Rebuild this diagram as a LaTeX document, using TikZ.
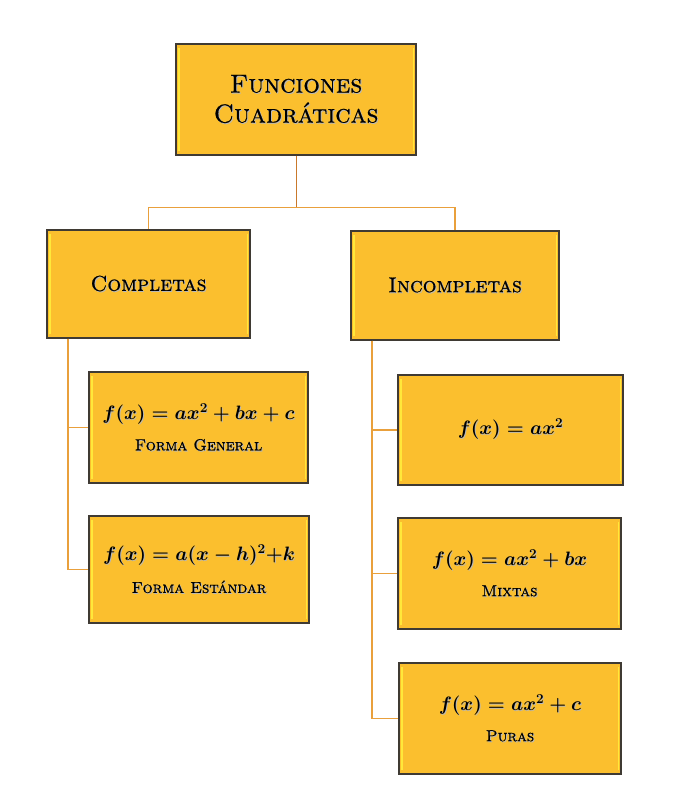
\RequirePackage{fix-cm}
\documentclass[tikz,border=0pt]{standalone}
\usepackage{fontspec}
\usetikzlibrary{calc}
\newfontfamily\capsfont{lmromancaps10-regular.otf}[FakeBold=0.6]
\definecolor{boxfill}{HTML}{FBBF2E}
\definecolor{boxline}{HTML}{3F3A33}
\definecolor{boxhi}{HTML}{FFE83A}
\definecolor{conn}{HTML}{E9A03C}
\definecolor{conndark}{HTML}{C9792C}
\newcommand{\shd}[1]{\leavevmode\rlap{\kern1pt\raisebox{-1pt}{\color{black!28}#1}}#1}
\tikzset{
  box/.style={draw=boxline, line width=1.1pt, fill=boxfill, align=center, inner sep=2pt,
    path picture={
      \draw[boxhi, line width=2.2pt] ($(path picture bounding box.north west)+(3,4)$) -- ($(path picture bounding box.south west)+(3,-4)$);
      \draw[boxhi, line width=1.2pt] ($(path picture bounding box.north east)+(-2.5,4)$) -- ($(path picture bounding box.south east)+(-2.5,-4)$);
    }},
  link/.style={draw=conn, line width=1.2pt},
  titletext/.style={font=\fontsize{26}{30}\selectfont\capsfont},
  headtext/.style={font=\fontsize{21.5}{24}\selectfont\capsfont},
}
\newcommand{\fml}[2]{{\fontsize{19.4}{22}\selectfont\boldmath\shd{$#1$}}\\[13pt]{\fontsize{16}{18}\selectfont\capsfont\shd{#2}}}
\begin{document}
\begin{tikzpicture}[x=1pt,y=-1pt]
\useasboundingbox (0,0) rectangle (676,810);
\node[box, titletext, minimum width=240pt, minimum height=111pt] (top) at (296,99.5) {\shd{Funciones}\\\shd{Cuadráticas}};
\node[box, headtext, minimum width=203pt, minimum height=108pt] (comp) at (148.5,284) {\shd{Completas}};
\node[box, headtext, minimum width=208pt, minimum height=109pt] (inc) at (455,285.5) {\shd{Incompletas}};
\node[box, minimum width=219pt, minimum height=111pt] (fg) at (198.5,427.5) {\fml{f(x)=ax^2+bx+c}{Forma General}};
\node[box, minimum width=220pt, minimum height=107pt] (fe) at (199,569.5) {\fml{f(x)=a(x-h)^2{+}k}{Forma Estándar}};
\node[box, minimum width=225pt, minimum height=110pt] (pa) at (510.5,430) {{\fontsize{19.4}{22}\selectfont\boldmath\shd{$f(x)=ax^2$}}};
\node[box, minimum width=223pt, minimum height=111pt] (mx) at (509.5,573.5) {\fml{f(x)=ax^2+bx}{Mixtas}};
\node[box, minimum width=222pt, minimum height=111pt] (pu) at (510,718.5) {\fml{f(x)=ax^2+c}{Puras}};
\coordinate (j) at (296.5,207.5);
\coordinate (cs) at ($(comp.south west)+(21.5,0)$);
\coordinate (is) at ($(inc.south west)+(21.5,0)$);
\draw[link, draw=conndark] (top.south -| j) -- (j);
\draw[link] (j) -| (comp.north);
\draw[link] (j) -| (inc.north);
\draw[link] (cs) |- (fg.west);
\draw[link] (cs) |- (fe.west);
\draw[link] (is) |- (pa.west);
\draw[link] (is) |- (mx.west);
\draw[link] (is) |- (pu.west);
\end{tikzpicture}
\end{document}
